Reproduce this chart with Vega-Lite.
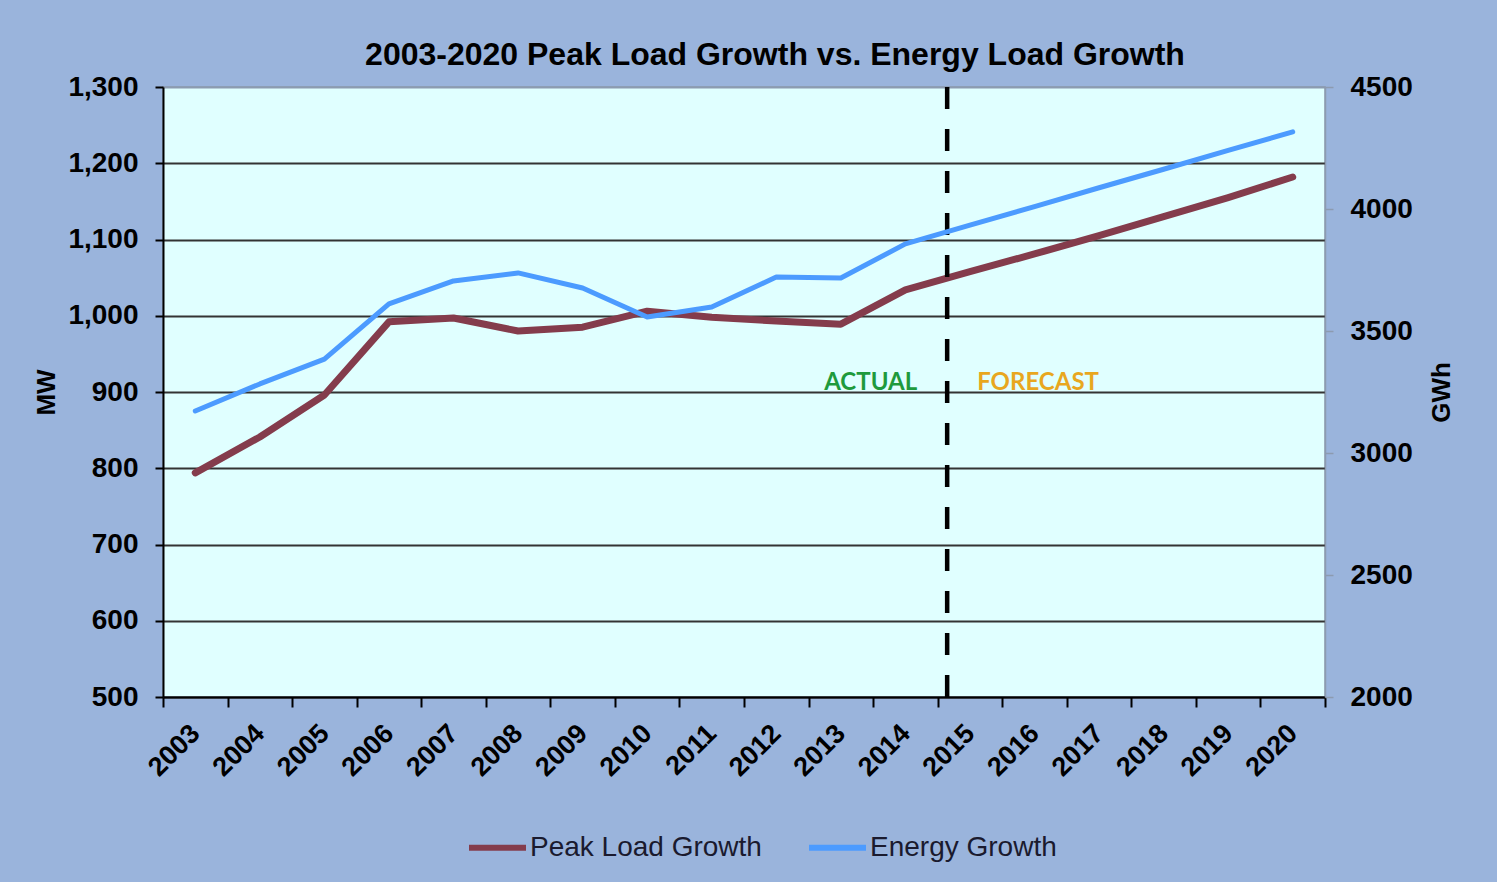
{
  "$schema": "https://vega.github.io/schema/vega-lite/v6.json",
  "width": 1162,
  "height": 610,
  "autosize": {"type": "none"},
  "padding": {"left": 163, "top": 87, "right": 172, "bottom": 185},
  "background": "#9AB4DC",
  "title": {
    "text": "2003-2020 Peak Load Growth vs. Energy Load Growth",
    "font": "Liberation Sans",
    "fontSize": 32,
    "fontWeight": "bold",
    "color": "#000000",
    "anchor": "middle",
    "offset": 1,
    "dx": 31
  },
  "config": {
    "view": {"fill": "#E0FFFF", "stroke": "#8C9BB0", "strokeWidth": 1.5}
  },
  "datasets": {
    "load": [
      {"year": 2003, "peak": 794, "energy": 3172},
      {"year": 2004, "peak": 841, "energy": 3283},
      {"year": 2005, "peak": 896, "energy": 3385},
      {"year": 2006, "peak": 992, "energy": 3611},
      {"year": 2007, "peak": 997, "energy": 3705},
      {"year": 2008, "peak": 980, "energy": 3738},
      {"year": 2009, "peak": 985, "energy": 3676},
      {"year": 2010, "peak": 1006, "energy": 3557},
      {"year": 2011, "peak": 998, "energy": 3598},
      {"year": 2012, "peak": 993, "energy": 3721},
      {"year": 2013, "peak": 989, "energy": 3717},
      {"year": 2014, "peak": 1034, "energy": 3857},
      {"year": 2015, "peak": 1058, "energy": 3934},
      {"year": 2016, "peak": 1081, "energy": 4010},
      {"year": 2017, "peak": 1105, "energy": 4087},
      {"year": 2018, "peak": 1130, "energy": 4163},
      {"year": 2019, "peak": 1155, "energy": 4240},
      {"year": 2020, "peak": 1182, "energy": 4316}
    ],
    "notes": [
      {"year": 2015, "mw": 902, "actual": "ACTUAL", "forecast": "FORECAST"}
    ]
  },
  "layer": [
    {
      "layer": [
        {
          "data": {"name": "load"},
          "mark": {"type": "line", "strokeWidth": 7, "strokeCap": "round", "strokeJoin": "round"},
          "encoding": {
            "x": {
              "field": "year",
              "type": "ordinal",
              "bandPosition": 0.5,
              "scale": {
                "type": "band",
                "paddingInner": 0,
                "paddingOuter": 0,
                "domain": [2003, 2004, 2005, 2006, 2007, 2008, 2009, 2010, 2011, 2012, 2013, 2014, 2015, 2016, 2017, 2018, 2019, 2020]
              },
              "axis": {
                "title": null,
                "labelAngle": -45,
                "labelAlign": "right",
                "labelBaseline": "middle",
                "labelFont": "Liberation Sans",
                "labelFontSize": 27,
                "labelFontWeight": "bold",
                "labelColor": "#000000",
                "labelPadding": 22,
                "tickBand": "extent",
                "tickSize": 10,
                "tickColor": "#000000",
                "tickWidth": 2,
                "domainColor": "#000000",
                "domainWidth": 2,
                "grid": false
              }
            },
            "y": {
              "field": "peak",
              "type": "quantitative",
              "scale": {"domain": [500, 1300], "nice": false, "zero": false},
              "axis": {
                "title": "MW",
                "values": [500, 600, 700, 800, 900, 1000, 1100, 1200, 1300],
                "format": ",d",
                "labelFont": "Liberation Sans",
                "labelFontSize": 28,
                "labelFontWeight": "bold",
                "labelColor": "#000000",
                "labelPadding": 17,
                "tickSize": 8,
                "tickColor": "#000000",
                "tickWidth": 2,
                "domainColor": "#000000",
                "domainWidth": 2,
                "grid": true,
                "gridColor": {"condition": {"test": "datum.value === 1300", "value": "#8C9BB0"}, "value": "#333333"},
                "gridWidth": 2,
                "titleFont": "Liberation Sans",
                "titleFontSize": 26,
                "titleFontWeight": "bold",
                "titleColor": "#000000",
                "titlePadding": 8
              }
            },
            "color": {
              "datum": "Peak Load Growth",
              "type": "nominal",
              "scale": {"domain": ["Peak Load Growth", "Energy Growth"], "range": ["#843C4C", "#4C9BFF"]},
              "legend": {
                "orient": "none",
                "legendX": 303,
                "legendY": 729,
                "direction": "horizontal",
                "title": null,
                "labelFont": "Liberation Sans",
                "labelFontSize": 28,
                "labelColor": "#1A1A2E",
                "labelLimit": 0,
                "symbolType": "stroke",
                "symbolSize": 3249,
                "symbolStrokeWidth": 6,
                "labelOffset": 1,
                "columnPadding": 35
              }
            }
          }
        },
        {
          "data": {"name": "notes"},
          "mark": {"type": "rule", "color": "#000000", "strokeWidth": 4.5, "strokeDash": [22, 20]},
          "encoding": {
            "x": {"field": "year", "type": "ordinal", "bandPosition": 0.147}
          }
        },
        {
          "data": {"name": "notes"},
          "mark": {"type": "text", "align": "right", "baseline": "alphabetic", "dx": -30, "font": "Lato", "fontSize": 24, "fontWeight": "bold", "color": "#1E9A3C"},
          "encoding": {
            "x": {"field": "year", "type": "ordinal", "bandPosition": 0.147},
            "y": {"field": "mw", "type": "quantitative"},
            "text": {"field": "actual"}
          }
        },
        {
          "data": {"name": "notes"},
          "mark": {"type": "text", "align": "left", "baseline": "alphabetic", "dx": 30, "font": "Lato", "fontSize": 24, "fontWeight": "bold", "color": "#E8A71F"},
          "encoding": {
            "x": {"field": "year", "type": "ordinal", "bandPosition": 0.147},
            "y": {"field": "mw", "type": "quantitative"},
            "text": {"field": "forecast"}
          }
        }
      ]
    },
    {
      "data": {"name": "load"},
      "mark": {"type": "line", "strokeWidth": 5, "strokeCap": "round", "strokeJoin": "round"},
      "encoding": {
        "x": {"field": "year", "type": "ordinal", "bandPosition": 0.5},
        "y": {
          "field": "energy",
          "type": "quantitative",
          "scale": {"domain": [2000, 4500], "nice": false, "zero": false},
          "axis": {
            "orient": "right",
            "title": "GWh",
            "values": [2000, 2500, 3000, 3500, 4000, 4500],
            "format": "d",
            "labelFont": "Liberation Sans",
            "labelFontSize": 28,
            "labelFontWeight": "bold",
            "labelColor": "#000000",
            "labelPadding": 17,
            "tickSize": 8,
            "tickColor": "#8C9BB0",
            "tickWidth": 1.5,
            "domainColor": "#8C9BB0",
            "domainWidth": 1.5,
            "grid": false,
            "titleFont": "Liberation Sans",
            "titleFontSize": 26,
            "titleFontWeight": "bold",
            "titleColor": "#000000",
            "titleAngle": -90,
            "titleBaseline": "top",
            "titlePadding": 16
          }
        },
        "color": {"datum": "Energy Growth", "type": "nominal"}
      }
    }
  ],
  "resolve": {"scale": {"y": "independent"}}
}
